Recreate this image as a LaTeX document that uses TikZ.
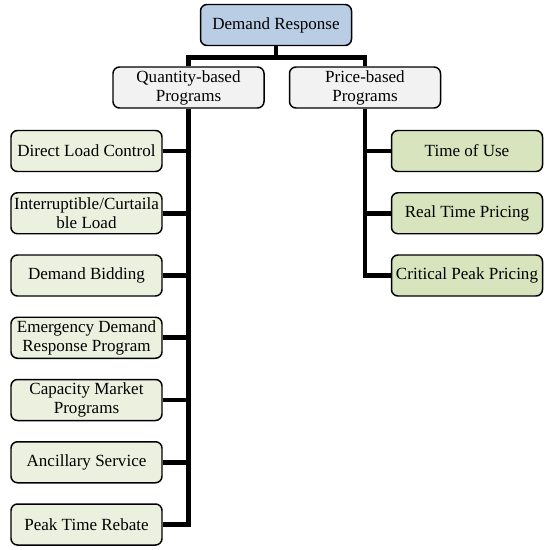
\documentclass[tikz,border=0pt]{standalone}
\usepackage{fontspec}
\setmainfont{Liberation Serif}
\usepackage{xcolor}
\usepackage{tikz}
\usetikzlibrary{calc}

\definecolor{rootblue}{RGB}{185,205,229}
\definecolor{midgray}{RGB}{242,242,242}
\definecolor{leafpale}{RGB}{235,241,222}
\definecolor{leafgreen}{RGB}{215,228,189}

\begin{document}
\begin{tikzpicture}
\tikzstyle{box}  = [draw, rounded corners=0.13cm, line width=0.85pt, minimum width=3.02cm, minimum height=0.82cm, inner sep=1pt, align=center, font=\fontsize{9.7}{10.8}\selectfont]
\tikzstyle{link} = [line width=2.6pt]
\useasboundingbox (0, 0) rectangle (10.96, -11);
\node [box, fill=rootblue](root) at (5.52, -0.5) {Demand Response};
\node [box, fill=midgray](qty) at (3.77, -1.75) {Quantity-based\\Programs};
\node [box, fill=midgray](price) at (7.3, -1.75) {Price-based\\Programs};
 %%Quantity-based programs
\node [box, fill=leafpale](q1) at (1.73, -3.02) {Direct Load Control};
\node [box, fill=leafpale](q2) at ($(q1) - (0, 1.245)$) {Interruptible/Curtaila\\ble Load};
\node [box, fill=leafpale](q3) at ($(q2) - (0, 1.245)$) {Demand Bidding};
\node [box, fill=leafpale](q4) at ($(q3) - (0, 1.245)$) {Emergency Demand\\Response Program};
\node [box, fill=leafpale](q5) at ($(q4) - (0, 1.245)$) {Capacity Market\\Programs};
\node [box, fill=leafpale](q6) at ($(q5) - (0, 1.245)$) {Ancillary Service};
\node [box, fill=leafpale](q7) at ($(q6) - (0, 1.245)$) {Peak Time Rebate};
 %%Price-based programs
\node [box, fill=leafgreen](p1) at (9.34, -3.02) {Time of Use};
\node [box, fill=leafgreen](p2) at ($(p1) - (0, 1.245)$) {Real Time Pricing};
\node [box, fill=leafgreen](p3) at ($(p2) - (0, 1.245)$) {Critical Peak Pricing};
 %%Edges
\draw [link](root.south) -- ++(0, -0.22) -| (qty.north);
\draw [link](root.south) -- ++(0, -0.22) -| (price.north);
\draw [link](qty.south) |- (q7.east);
\draw [link](q1.east) -- (q1.east -| qty.south);
\draw [link](q2.east) -- (q2.east -| qty.south);
\draw [link](q3.east) -- (q3.east -| qty.south);
\draw [link](q4.east) -- (q4.east -| qty.south);
\draw [link](q5.east) -- (q5.east -| qty.south);
\draw [link](q6.east) -- (q6.east -| qty.south);
\draw [link](price.south) |- (p3.west);
\draw [link](p1.west) -- (p1.west -| price.south);
\draw [link](p2.west) -- (p2.west -| price.south);
\end{tikzpicture}
\end{document}
